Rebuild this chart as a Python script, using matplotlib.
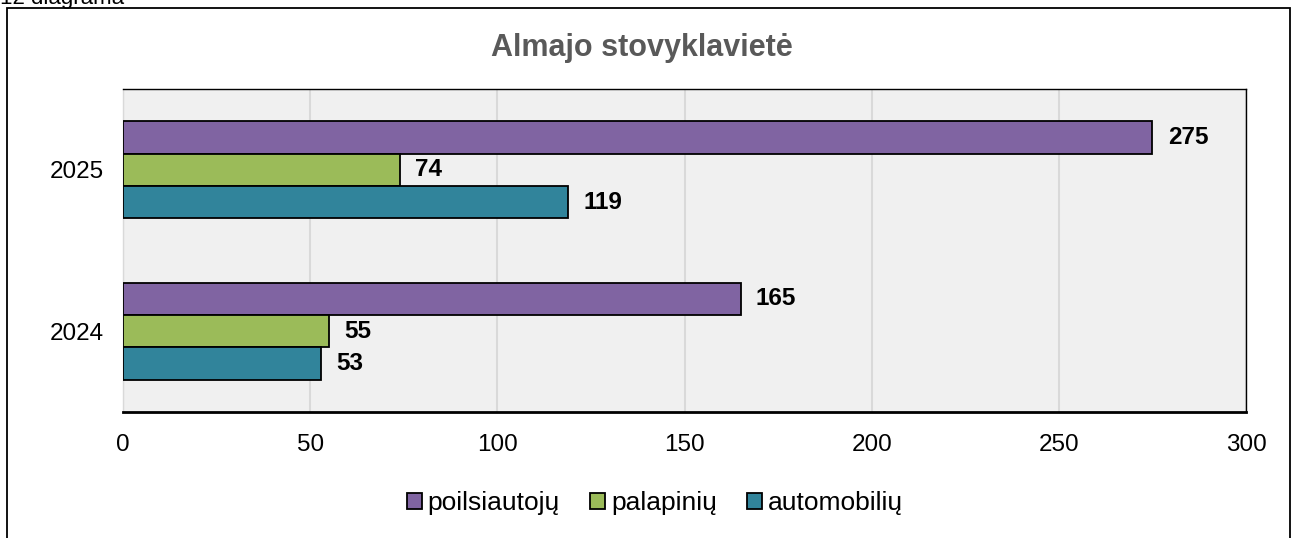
import matplotlib.pyplot as plt
import numpy as np
from matplotlib.patches import Rectangle

plt.rcParams['font.family'] = ['Liberation Sans', 'DejaVu Sans']

# duomenys
years = ['2024', '2025']
series = ['poilsiautojų', 'palapinių', 'automobilių']
poilsiautoju = [165, 275]
palapiniu = [55, 74]
automobiliu = [53, 119]
colors = ['#8064A2', '#9BBB59', '#31849B']

fig = plt.figure(figsize=(12.95, 5.38), dpi=100)
ax = fig.add_axes([123 / 1295, 1 - 412 / 538, 1123 / 1295, 323 / 538])
ax.set_facecolor('#F0F0F0')

y = np.arange(len(years))
h = 0.2
values = [poilsiautoju, palapiniu, automobiliu]
offsets = [h, 0, -h]
for vals, off, col, name in zip(values, offsets, colors, series):
    bars = ax.barh(y + off, vals, height=h, color=col, edgecolor='black',
                   linewidth=1.3, label=name, zorder=3)
    ax.bar_label(bars, padding=11, fontsize=17.5, fontweight='bold', color='black')

ax.set_xlim(0, 300)
ax.set_ylim(-0.5, 1.5)
ax.set_xticks(range(0, 301, 50))
ax.set_yticks(y)
ax.set_yticklabels(years)
ax.tick_params(axis='both', length=0, labelsize=17.5)
ax.tick_params(axis='x', pad=16)
ax.tick_params(axis='y', pad=14)
ax.grid(axis='x', color='#D9D9D9', linewidth=1.5, zorder=0)
for s in ['top', 'right', 'left']:
    ax.spines[s].set_linewidth(1.0)
ax.spines['left'].set_color('#D9D9D9')
ax.spines['bottom'].set_linewidth(2.0)

fig.text(642 / 1295, 1 - 48 / 538, 'Almajo stovyklavietė', ha='center', va='center',
         fontsize=22, fontweight='bold', color='#595959')
fig.text(0.0, 1 - 4 / 538, '12 diagrama', ha='left', va='baseline', fontsize=16)

fig.patches.append(Rectangle((7 / 1295, -0.05), 1283 / 1295, 1 - 8 / 538 + 0.05,
                             transform=fig.transFigure, fill=False,
                             edgecolor='black', linewidth=1.3))

leg = fig.legend(loc='center', bbox_to_anchor=(655 / 1295, 1 - 503 / 538), ncol=3,
                 frameon=False, fontsize=19, handlelength=0.57, handleheight=0.57,
                 handletextpad=0.22, columnspacing=1.15)

plt.savefig('out.png', dpi=100)
